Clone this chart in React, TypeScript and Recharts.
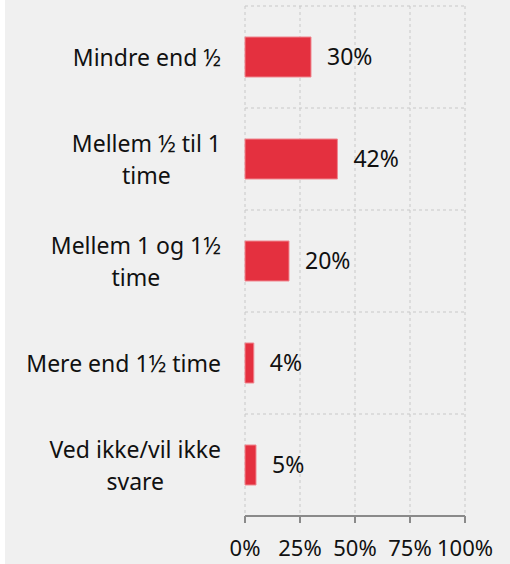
import React from "react";
import { BarChart, Bar, XAxis, YAxis, CartesianGrid, LabelList } from "recharts";

const categories = [
  "Mindre end ½",
  "Mellem ½ til 1\ntime",
  "Mellem 1 og 1½\ntime",
  "Mere end 1½ time",
  "Ved ikke/vil ikke\nsvare",
];
const values = [30, 42, 20, 4, 5];
const xTicks = [0, 25, 50, 75, 100];

const data = categories.map((c, i) => ({ name: c, value: values[i] }));

const FONT = "'Noto Sans', 'Open Sans', sans-serif";
const CAT_SIZE = 23;

let canvasCtx: CanvasRenderingContext2D | null = null;
function measure(text: string, size: number): number {
  if (typeof document === "undefined") return text.length * size * 0.55;
  if (!canvasCtx) {
    const c = document.createElement("canvas");
    canvasCtx = c.getContext("2d");
  }
  if (!canvasCtx) return text.length * size * 0.55;
  canvasCtx.font = `${size}px 'Noto Sans'`;
  return canvasCtx.measureText(text).width;
}

const CategoryTick = (props: any) => {
  const { x, y, payload } = props;
  const lines = String(payload.value).split("\n");
  const lh = 32;
  const widths = lines.map((l) => measure(l, CAT_SIZE));
  const maxW = Math.max(...widths);
  const cx = x - maxW / 2;
  const startDy = -((lines.length - 1) * lh) / 2;
  return (
    <text
      x={cx}
      y={y}
      textAnchor="middle"
      fill="#111111"
      fontSize={CAT_SIZE}
      fontFamily={FONT}
      dominantBaseline="central"
    >
      {lines.map((l: string, i: number) => (
        <tspan key={i} x={cx} dy={i === 0 ? startDy : lh}>
          {l}
        </tspan>
      ))}
    </text>
  );
};

export default function App() {
  return (
    <div
      style={{
        position: "absolute",
        left: 0,
        top: 0,
        width: 510,
        height: 564,
        background: "#ffffff",
      }}
    >
      <div
        style={{
          position: "absolute",
          left: 5,
          top: 0,
          width: 505,
          height: 564,
          background: "#f0f0f0",
        }}
      />
      <div style={{ position: "absolute", left: 0, top: 0 }}>
        <BarChart
          width={510}
          height={564}
          data={data}
          layout="vertical"
          margin={{ top: 6, right: 45, bottom: 0, left: 0 }}
        >
          <CartesianGrid
            stroke="#c8c8c8"
            strokeDasharray="3 3"
            horizontalCoordinatesGenerator={({ offset }: any) => {
              const n = categories.length;
              const arr: number[] = [];
              for (let i = 0; i < n; i++) arr.push(offset.top + (offset.height * i) / n);
              return arr;
            }}
          />
          <XAxis
            type="number"
            domain={[0, 100]}
            ticks={xTicks}
            tickFormatter={(v: number) => `${v}%`}
            height={48}
            axisLine={{ stroke: "#8a8a8a", strokeWidth: 2 }}
            tickLine={{ stroke: "#8a8a8a", strokeWidth: 2 }}
            tickSize={7}
            tickMargin={17}
            tick={{ fill: "#111111", fontSize: 22, fontFamily: FONT }}
            interval={0}
          />
          <YAxis
            type="category"
            dataKey="name"
            width={245}
            axisLine={false}
            tickLine={false}
            tick={<CategoryTick />}
            tickSize={0}
            tickMargin={24}
            interval={0}
          />
          <Bar
            dataKey="value"
            fill="#e4303f"
            stroke="#ef8790"
            strokeWidth={1}
            barSize={40}
            isAnimationActive={false}
          >
            <LabelList
              dataKey="value"
              position="right"
              offset={16}
              formatter={(v: any) => `${v}%`}
              style={{ fill: "#111111", fontSize: 23, fontFamily: FONT }}
            />
          </Bar>
        </BarChart>
      </div>
    </div>
  );
}
